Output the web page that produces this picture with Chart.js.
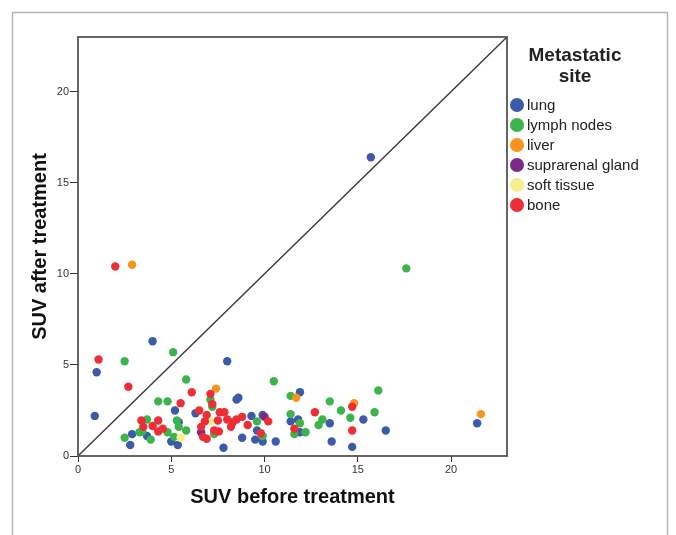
<!DOCTYPE html>
<html lang="en">

<head>
    <meta charset="UTF-8" />
    <title>SUV before / after treatment</title>
    <script src="https://cdn.jsdelivr.net/npm/chart.js"></script>
    <style>
        body {
            margin: 0;
            background: #fff;
        }

        #wrap {
            width: 676px;
            height: 535px;
        }
    </style>
</head>

<body>
    <div id="wrap"><canvas id="suvChart" width="676" height="535"></canvas></div>

    <script>
        // values (SUV before, SUV after)
        const lungX = [15.7, 4.0, 8.0, 1.0, 0.9, 5.2, 2.8, 2.9, 3.7, 5.0, 5.35, 5.4, 6.3, 7.8, 8.5, 8.6, 9.3, 8.8, 9.6, 9.5, 9.9, 9.9, 10.6, 11.4, 11.8, 11.9, 11.9, 13.5, 13.6, 14.7, 15.3, 16.5, 21.4];
        const lungY = [16.4, 6.3, 5.2, 4.6, 2.2, 2.5, 0.6, 1.2, 1.1, 0.8, 0.6, 1.85, 2.35, 0.45, 3.1, 3.2, 2.2, 1.0, 1.4, 0.9, 0.8, 2.25, 0.8, 1.9, 2.0, 3.5, 1.3, 1.8, 0.8, 0.5, 2.0, 1.4, 1.8];

        const lymphX = [17.6, 5.1, 2.5, 5.8, 10.5, 16.1, 11.4, 13.5, 14.1, 15.9, 14.6, 11.4, 13.1, 12.9, 11.9, 12.2, 11.6, 4.3, 4.8, 7.1, 7.2, 2.5, 3.3, 3.45, 3.7, 3.9, 4.8, 5.3, 5.4, 5.8, 5.15, 7.3, 9.6, 9.9];
        const lymphY = [10.3, 5.7, 5.2, 4.2, 4.1, 3.6, 3.3, 3.0, 2.5, 2.4, 2.1, 2.3, 2.0, 1.7, 1.8, 1.3, 1.2, 3.0, 3.0, 3.1, 2.7, 1.0, 1.3, 1.35, 2.0, 0.9, 1.3, 1.95, 1.6, 1.4, 1.05, 1.2, 1.9, 1.1];

        const liverX = [2.9, 7.4, 11.7, 14.8, 21.6];
        const liverY = [10.5, 3.7, 3.2, 2.9, 2.3];

        const supraX = [6.6, 10.0];
        const supraY = [1.3, 2.15];

        const softX = [5.5, 7.1];
        const softY = [1.0, 1.9];

        const boneX = [2.0, 1.1, 2.7, 6.1, 5.5, 7.1, 7.2, 6.5, 12.7, 14.7, 14.7, 11.6, 9.8, 10.2, 9.1, 8.8, 8.5, 8.3, 8.2, 7.85, 7.6, 7.5, 7.55, 7.3, 6.9, 6.8, 6.6, 6.7, 6.9, 8.0, 3.4, 3.5, 4.0, 4.3, 4.3, 4.55];
        const boneY = [10.4, 5.3, 3.8, 3.5, 2.9, 3.4, 2.85, 2.5, 2.4, 2.7, 1.4, 1.5, 1.25, 1.9, 1.7, 2.15, 2.0, 1.85, 1.6, 2.4, 2.4, 1.95, 1.35, 1.4, 2.25, 1.9, 1.6, 1.05, 0.95, 2.0, 1.95, 1.6, 1.65, 1.95, 1.35, 1.5];

        // reference line y = x
        const diagX = [0, 23];
        const diagY = [0, 23];

        const siteNames = ['lung', 'lymph nodes', 'liver', 'suprarenal gland', 'soft tissue', 'bone'];
        const siteColors = ['#3d59a9', '#3cb44b', '#f7941e', '#7b2a86', '#f7ee8c', '#ee2e37'];
        const siteX = [lungX, lymphX, liverX, supraX, softX, boneX];
        const siteY = [lungY, lymphY, liverY, supraY, softY, boneY];
        const axisMax = 23;
        const tickStep = 5;

        function toPoints(xs, ys) {
            return xs.map((x, i) => ({ x: x, y: ys[i] }));
        }

        const datasets = siteNames.map((name, i) => ({
            type: 'scatter',
            label: name,
            data: toPoints(siteX[i], siteY[i]),
            backgroundColor: siteColors[i],
            borderWidth: 0,
            pointRadius: 4.2,
            pointHoverRadius: 4.2,
            order: siteNames.length - i
        }));

        datasets.push({
            type: 'line',
            label: 'diagonal',
            data: toPoints(diagX, diagY),
            borderColor: '#3a3a3a',
            borderWidth: 1.4,
            pointRadius: 0,
            fill: false,
            order: 10
        });

        // grey outer frame + plot box + legend on the right
        const framePlugin = {
            id: 'frame',
            beforeDraw(chart) {
                const ctx = chart.ctx;
                ctx.save();
                ctx.fillStyle = '#fff';
                ctx.fillRect(0, 0, chart.width, chart.height);
                ctx.strokeStyle = '#b4b4b4';
                ctx.lineWidth = 1.5;
                ctx.strokeRect(12.5, 12.5, 655, 560);
                ctx.restore();
            },
            afterDraw(chart) {
                const ctx = chart.ctx;
                const a = chart.chartArea;
                ctx.save();
                ctx.strokeStyle = '#555';
                ctx.lineWidth = 1.8;
                ctx.strokeRect(a.left, a.top, a.right - a.left, a.bottom - a.top);

                // legend
                ctx.fillStyle = '#222';
                ctx.font = 'bold 19px "Liberation Sans", Arial, sans-serif';
                ctx.textAlign = 'center';
                ctx.textBaseline = 'middle';
                ctx.fillText('Metastatic', 575, 56);
                ctx.fillText('site', 575, 77);

                ctx.font = '15px "Liberation Sans", Arial, sans-serif';
                ctx.textAlign = 'left';
                siteNames.forEach((name, i) => {
                    const y = 105 + i * 20;
                    ctx.beginPath();
                    ctx.arc(517, y, 7, 0, Math.PI * 2);
                    ctx.fillStyle = siteColors[i];
                    ctx.fill();
                    ctx.fillStyle = '#222';
                    ctx.fillText(name, 527, y + 1);
                });
                ctx.restore();
            }
        };

        const tickFont = { family: '"Liberation Sans", Arial, sans-serif', size: 11 };
        const titleFont = { family: '"Liberation Sans", Arial, sans-serif', size: 20, weight: 'bold' };

        new Chart(document.getElementById('suvChart'), {
            data: { datasets: datasets },
            options: {
                responsive: false,
                animation: false,
                layout: { padding: { left: 28, top: 37, right: 169, bottom: 26 } },
                plugins: {
                    legend: { display: false },
                    tooltip: { enabled: false }
                },
                scales: {
                    x: {
                        type: 'linear',
                        min: 0,
                        max: axisMax,
                        afterFit: (scale) => { scale.height = 53; },
                        border: { display: false },
                        grid: { drawOnChartArea: false, drawTicks: true, tickLength: 6, color: '#333' },
                        ticks: { stepSize: tickStep, includeBounds: false, maxRotation: 0, padding: 1, color: '#333', font: tickFont },
                        title: { display: true, text: 'SUV before treatment', color: '#111', font: titleFont, padding: 0 }
                    },
                    y: {
                        type: 'linear',
                        min: 0,
                        max: axisMax,
                        afterFit: (scale) => { scale.width = 50; },
                        border: { display: false },
                        grid: { drawOnChartArea: false, drawTicks: true, tickLength: 8, color: '#333' },
                        ticks: { stepSize: tickStep, includeBounds: false, padding: 1, color: '#333', font: tickFont },
                        title: { display: true, text: 'SUV after treatment', color: '#111', font: titleFont, padding: 0 }
                    }
                }
            },
            plugins: [framePlugin]
        });
    </script>
</body>

</html>
